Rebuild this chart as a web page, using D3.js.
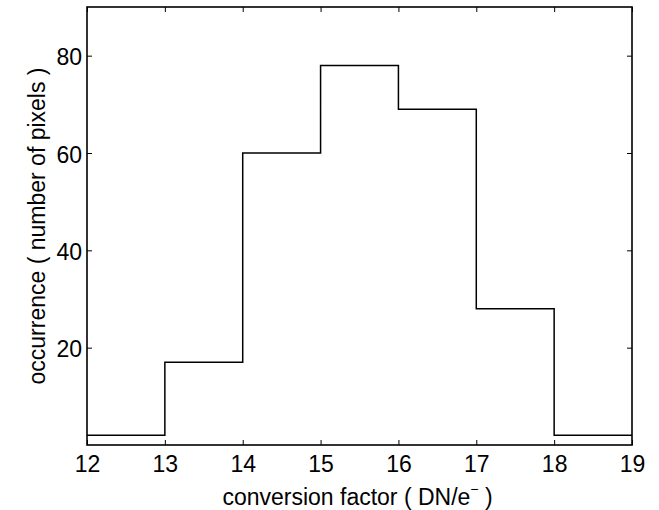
<!DOCTYPE html>
<html>
<head>
<meta charset="utf-8">
<script src="https://cdn.jsdelivr.net/npm/d3@7"></script>
<style>
  body { margin: 0; background: #fff; }
  svg text { font-family: "Liberation Sans", Arial, Helvetica, sans-serif; fill: #000; }
</style>
</head>
<body>
<svg id="chart" width="659" height="510"></svg>
<script>
// Histogram of per-pixel conversion factors (stairs outline)
const binEdges = [12, 13, 14, 15, 16, 17, 18, 19];
const counts = [2, 17, 60, 78, 69, 28, 2];
const xTicks = [12, 13, 14, 15, 16, 17, 18, 19];
const yTicks = [20, 40, 60, 80];

const W = 659, H = 510;
const m = { left: 87, right: 659 - 632, top: 7, bottom: 510 - 445 };
const svg = d3.select("#chart");

const x = d3.scaleLinear().domain([12, 19]).range([m.left, W - m.right]);
const y = d3.scaleLinear().domain([0, 90]).range([H - m.bottom, m.top]);

const tickLen = 5;
const fs = 23;

// Stairs: each bin is a horizontal step, joined by vertical risers
const pts = [];
counts.forEach((c, i) => {
  pts.push([binEdges[i], c]);
  pts.push([binEdges[i + 1], c]);
});
const line = d3.line().x(d => x(d[0])).y(d => y(d[1]));
svg.append("path")
  .attr("d", line(pts))
  .attr("fill", "none")
  .attr("stroke", "#000")
  .attr("stroke-width", 1.5);

// Bottom axis (ticks point inward)
const gx = svg.append("g").attr("transform", `translate(0,${y(0)})`)
  .call(d3.axisBottom(x).tickValues(xTicks).tickSize(-tickLen).tickFormat(d3.format("d")));
gx.selectAll(".tick text").attr("y", 27).attr("dy", null);
// Top axis ticks
const gxt = svg.append("g").attr("transform", `translate(0,${m.top})`)
  .call(d3.axisTop(x).tickValues(xTicks).tickSize(-tickLen).tickFormat(""));
// Left axis
const gy = svg.append("g").attr("transform", `translate(${m.left},0)`)
  .call(d3.axisLeft(y).tickValues(yTicks).tickSize(-tickLen).tickFormat(d3.format("d")));
gy.selectAll(".tick text").attr("x", -5).attr("dy", "0.4em");
// Right axis ticks
const gyr = svg.append("g").attr("transform", `translate(${W - m.right},0)`)
  .call(d3.axisRight(y).tickValues(yTicks).tickSize(-tickLen).tickFormat(""));

[gx, gxt, gy, gyr].forEach(g => {
  g.attr("font-family", null).attr("font-size", null);
  g.select(".domain").remove();
  g.selectAll(".tick line").attr("stroke", "#000").attr("stroke-width", 1);
  g.selectAll(".tick text").style("font-size", fs + "px").attr("fill", "#000");
});

// Box frame
svg.append("rect")
  .attr("x", x(12)).attr("y", y(90))
  .attr("width", x(19) - x(12)).attr("height", y(0) - y(90))
  .attr("fill", "none").attr("stroke", "#000").attr("stroke-width", 1.6);

// Axis titles
const xl = svg.append("text")
  .attr("x", (x(12) + x(19)) / 2 - 2).attr("y", 505)
  .attr("text-anchor", "middle").style("font-size", fs + "px");
xl.append("tspan").text("conversion factor ( DN/e");
xl.append("tspan").attr("dy", -11).style("font-size", "14px").text("\u2212");
xl.append("tspan").attr("dy", 11).text(" )");

svg.append("text")
  .attr("transform", `translate(45,${(y(0) + y(90)) / 2}) rotate(-90)`)
  .attr("text-anchor", "middle").style("font-size", fs + "px")
  .text("occurrence ( number of pixels )");
</script>
</body>
</html>
